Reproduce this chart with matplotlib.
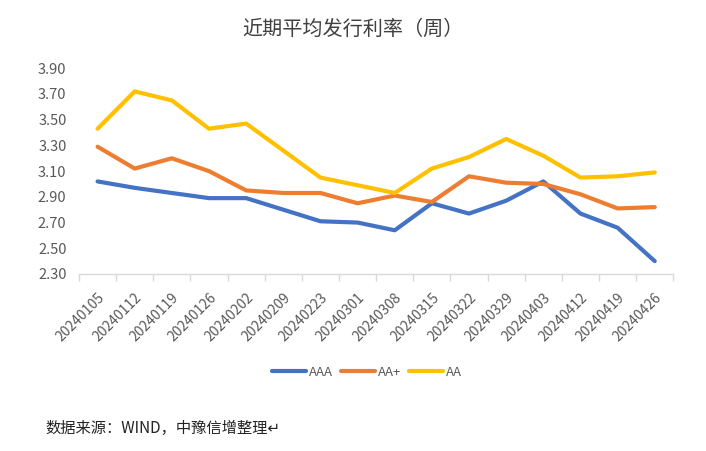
import matplotlib.pyplot as plt
import numpy as np

plt.rcParams['font.family'] = ['Noto Sans CJK SC', 'DejaVu Sans']

dates = ['20240105', '20240112', '20240119', '20240126', '20240202', '20240209',
         '20240223', '20240301', '20240308', '20240315', '20240322', '20240329',
         '20240403', '20240412', '20240419', '20240426']
aaa = [3.02, 2.97, 2.93, 2.89, 2.89, 2.80, 2.71, 2.70, 2.64, 2.85, 2.77, 2.87,
       3.02, 2.77, 2.66, 2.40]
aa_plus = [3.29, 3.12, 3.20, 3.10, 2.95, 2.93, 2.93, 2.85, 2.91, 2.86, 3.06, 3.01,
           3.00, 2.92, 2.81, 2.82]
aa = [3.43, 3.72, 3.65, 3.43, 3.47, 3.26, 3.05, 2.99, 2.93, 3.12, 3.21, 3.35,
      3.22, 3.05, 3.06, 3.09]
y_ticks = [2.30, 2.50, 2.70, 2.90, 3.10, 3.30, 3.50, 3.70, 3.90]

COL = {'AAA': '#4472C4', 'AA+': '#ED7D31', 'AA': '#FFC000'}
GRAY = '#595959'

fig = plt.figure(figsize=(7.06, 4.51), dpi=100)
ax = fig.add_axes([0.1119, 0.3925, 0.8418, 0.4561])

x = np.arange(len(dates))
ax.plot(x, aaa, color=COL['AAA'], lw=3, label='AAA', solid_capstyle='round')
ax.plot(x, aa_plus, color=COL['AA+'], lw=3, label='AA+', solid_capstyle='round')
ax.plot(x, aa, color=COL['AA'], lw=3, label='AA', solid_capstyle='round')

ax.set_xlim(-0.5, len(dates) - 0.5)
ax.set_ylim(2.30, 3.90)
ax.set_yticks(y_ticks)
ax.set_yticklabels([f'{v:.2f}' for v in y_ticks], color=GRAY, fontsize=10.5)
ax.tick_params(axis='y', length=0, pad=9)

ax.set_xticks(x)
ax.set_xticklabels(dates, rotation=45, ha='right', rotation_mode='anchor',
                   color=GRAY, fontsize=10)
ax.tick_params(axis='x', which='major', length=0, pad=12)
ax.set_xticks(np.arange(-0.5, len(dates)), minor=True)
ax.tick_params(axis='x', which='minor', length=5, color='#d9d9d9', width=1)

for s in ['top', 'right', 'left']:
    ax.spines[s].set_visible(False)
ax.spines['bottom'].set_color('#d9d9d9')
ax.spines['bottom'].set_linewidth(1)

fig.text(0.5, 0.935, '近期平均发行利率（周）', ha='center', va='center',
         fontsize=14.5, color='#404040', fontweight='medium')

fig.legend(loc='center', bbox_to_anchor=(0.52, 0.175), ncol=3, frameon=False,
           fontsize=9.5, handlelength=2.6, handletextpad=0.2, columnspacing=0.6,
           labelcolor=GRAY)

fig.text(0.064, 0.05, '数据来源：WIND，中豫信增整理↵', ha='left', va='center',
         fontsize=11, color='#222222')

fig.savefig('out.png', dpi=100)
